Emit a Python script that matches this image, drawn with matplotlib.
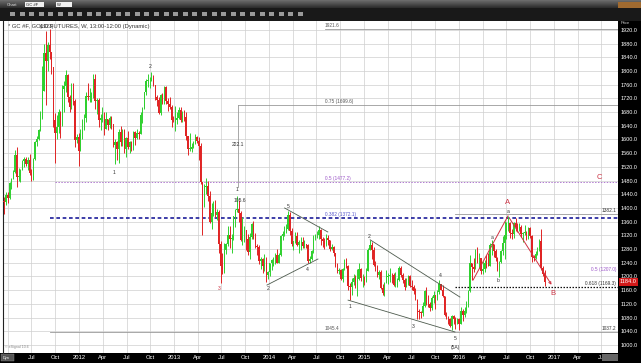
import numpy as np
import pandas as pd
import matplotlib
matplotlib.use('Agg')
import matplotlib.pyplot as plt
import matplotlib.dates as mdates
from matplotlib.patches import Rectangle
from matplotlib.ticker import FuncFormatter

plt.rcParams['font.family'] = ['Liberation Sans', 'DejaVu Sans']

# ---------------- data (weekly, week ending Friday) ----------------
first_week = '2011-03-18'
open_first = 1420.0

close_2011 = [1418, 1437, 1429, 1474, 1486, 1504, 1556, 1491, 1493, 1510, 1536, 1542, 1529, 1540, 1501,
              1483, 1542, 1592, 1602, 1628, 1664, 1743, 1852, 1828, 1876, 1856, 1813, 1658, 1620, 1636,
              1680, 1642, 1747, 1755, 1788, 1725, 1696, 1745, 1712, 1598, 1606, 1566]
high_2011 = [1431, 1447, 1446, 1477, 1489, 1510, 1569, 1577, 1517, 1514, 1540, 1550, 1550, 1550, 1557,
             1515, 1546, 1595, 1610, 1632, 1684, 1815, 1880, 1917, 1885, 1923, 1850, 1812, 1677, 1672,
             1690, 1684, 1760, 1770, 1803, 1790, 1730, 1765, 1765, 1717, 1615, 1620]
low_2011 = [1383, 1410, 1415, 1427, 1455, 1486, 1503, 1462, 1480, 1477, 1510, 1520, 1524, 1510, 1495,
            1478, 1486, 1540, 1581, 1598, 1625, 1660, 1745, 1702, 1800, 1836, 1790, 1636, 1532, 1600,
            1620, 1604, 1640, 1680, 1740, 1710, 1680, 1690, 1700, 1577, 1589, 1523]

close_2012 = [1617, 1631, 1664, 1727, 1725, 1725, 1726, 1776, 1712, 1714, 1657, 1662, 1668, 1630, 1659,
              1642, 1663, 1645, 1584, 1592, 1573, 1622, 1593, 1627, 1572, 1604, 1579, 1593, 1582, 1621,
              1605, 1620, 1616, 1672, 1691, 1738, 1770, 1773, 1775, 1780, 1759, 1725, 1714, 1678, 1730,
              1714, 1752, 1711, 1704, 1696, 1658, 1656]
high_2012 = [1630, 1660, 1675, 1740, 1764, 1750, 1740, 1790, 1792, 1721, 1720, 1673, 1695, 1680, 1680,
             1660, 1670, 1670, 1645, 1600, 1595, 1630, 1640, 1630, 1630, 1606, 1625, 1596, 1597, 1625,
             1625, 1630, 1626, 1679, 1696, 1740, 1777, 1790, 1783, 1797, 1787, 1760, 1730, 1725, 1733,
             1737, 1755, 1755, 1720, 1725, 1700, 1670]
low_2012 = [1565, 1600, 1627, 1650, 1715, 1710, 1710, 1720, 1688, 1673, 1636, 1627, 1650, 1612, 1635,
            1627, 1635, 1631, 1578, 1527, 1540, 1532, 1580, 1580, 1560, 1550, 1573, 1560, 1565, 1570,
            1585, 1600, 1600, 1616, 1649, 1690, 1730, 1753, 1750, 1770, 1755, 1715, 1697, 1675, 1672,
            1705, 1704, 1705, 1683, 1690, 1636, 1650]

close_2013 = [1656, 1662, 1687, 1657, 1668, 1667, 1609, 1572, 1572, 1577, 1592, 1608, 1596, 1581, 1476,
              1406, 1462, 1464, 1434, 1359, 1385, 1389, 1381, 1387, 1296, 1232, 1222, 1277, 1296, 1322,
              1310, 1312, 1376, 1395, 1396, 1386, 1308, 1333, 1337, 1310, 1272, 1316, 1352, 1313, 1288,
              1287, 1244, 1250, 1231, 1235, 1203, 1213]
high_2013 = [1697, 1680, 1695, 1696, 1682, 1685, 1680, 1610, 1620, 1590, 1597, 1617, 1610, 1607, 1589,
             1440, 1470, 1487, 1478, 1450, 1416, 1420, 1423, 1397, 1395, 1305, 1268, 1297, 1299, 1348,
             1346, 1325, 1378, 1397, 1434, 1423, 1390, 1375, 1346, 1330, 1325, 1326, 1355, 1361, 1327,
             1296, 1293, 1257, 1254, 1267, 1257, 1217]
low_2013 = [1626, 1645, 1660, 1652, 1650, 1655, 1598, 1554, 1565, 1563, 1575, 1588, 1590, 1539, 1470,
            1321, 1402, 1441, 1420, 1355, 1338, 1376, 1375, 1365, 1269, 1180, 1207, 1210, 1265, 1290,
            1282, 1270, 1306, 1345, 1388, 1360, 1305, 1292, 1300, 1278, 1262, 1251, 1310, 1310, 1284,
            1263, 1236, 1223, 1210, 1215, 1185, 1193]

close_2014 = [1238, 1247, 1254, 1264, 1239, 1262, 1318, 1323, 1326, 1339, 1379, 1334, 1294, 1303, 1318,
              1293, 1300, 1302, 1288, 1293, 1292, 1246, 1252, 1274, 1316, 1320, 1320, 1337, 1310, 1303,
              1294, 1311, 1306, 1280, 1287, 1268, 1231, 1216, 1218, 1192, 1222, 1238, 1231, 1171, 1169,
              1185, 1197, 1176, 1192, 1222, 1195, 1195]
high_2014 = [1240, 1251, 1256, 1270, 1280, 1270, 1320, 1332, 1346, 1354, 1392, 1388, 1341, 1305, 1331,
             1329, 1306, 1316, 1315, 1306, 1296, 1295, 1259, 1278, 1322, 1325, 1332, 1346, 1340, 1315,
             1312, 1324, 1320, 1304, 1296, 1289, 1270, 1240, 1226, 1221, 1226, 1250, 1255, 1235, 1180,
             1196, 1207, 1204, 1222, 1238, 1225, 1206]
low_2014 = [1202, 1219, 1232, 1236, 1238, 1240, 1261, 1306, 1319, 1330, 1335, 1322, 1290, 1277, 1299,
            1290, 1268, 1278, 1284, 1283, 1283, 1240, 1240, 1248, 1270, 1308, 1311, 1310, 1291, 1286,
            1281, 1290, 1292, 1273, 1276, 1259, 1228, 1211, 1208, 1190, 1183, 1218, 1226, 1160, 1131,
            1147, 1174, 1166, 1142, 1189, 1187, 1170]

close_2015 = [1186, 1216, 1277, 1293, 1278, 1234, 1227, 1204, 1213, 1167, 1152, 1182, 1199, 1201, 1204,
              1203, 1175, 1175, 1189, 1225, 1204, 1190, 1170, 1180, 1201, 1173, 1168, 1157, 1131, 1099,
              1095, 1094, 1113, 1159, 1134, 1121, 1108, 1137, 1145, 1137, 1156, 1177, 1162, 1142, 1088,
              1081, 1076, 1056, 1084, 1075, 1065, 1076, 1061]
high_2015 = [1200, 1224, 1283, 1307, 1300, 1285, 1245, 1233, 1220, 1218, 1178, 1184, 1220, 1210, 1224,
             1209, 1210, 1214, 1196, 1232, 1230, 1210, 1197, 1195, 1205, 1205, 1190, 1175, 1166, 1135,
             1104, 1100, 1126, 1162, 1170, 1147, 1126, 1142, 1157, 1144, 1160, 1191, 1178, 1175, 1143,
             1097, 1086, 1078, 1088, 1087, 1081, 1080, 1080]
low_2015 = [1175, 1183, 1215, 1276, 1250, 1232, 1216, 1198, 1192, 1163, 1147, 1142, 1180, 1178, 1185,
            1182, 1172, 1169, 1170, 1186, 1199, 1182, 1162, 1170, 1175, 1170, 1161, 1150, 1130, 1077,
            1077, 1080, 1086, 1110, 1117, 1111, 1098, 1102, 1123, 1106, 1132, 1150, 1160, 1141, 1085,
            1075, 1062, 1052, 1045, 1060, 1047, 1062, 1045]

close_2016 = [1098, 1089, 1098, 1117, 1158, 1239, 1227, 1222, 1270, 1250, 1254, 1217, 1222, 1240, 1235,
              1231, 1292, 1294, 1273, 1253, 1220, 1243, 1275, 1298, 1322, 1339, 1357, 1328, 1323, 1357,
              1344, 1339, 1345, 1323, 1327, 1328, 1310, 1343, 1317, 1257, 1254, 1267, 1276, 1304, 1224,
              1208, 1184]
high_2016 = [1110, 1105, 1110, 1128, 1161, 1263, 1240, 1253, 1280, 1287, 1270, 1250, 1244, 1247, 1262,
             1270, 1297, 1306, 1290, 1280, 1258, 1246, 1277, 1319, 1362, 1360, 1377, 1360, 1338, 1360,
             1371, 1356, 1357, 1350, 1331, 1350, 1333, 1344, 1344, 1320, 1263, 1274, 1285, 1309, 1338,
             1232, 1218]
low_2016 = [1061, 1071, 1081, 1093, 1111, 1154, 1190, 1212, 1225, 1240, 1226, 1208, 1206, 1212, 1225,
            1230, 1239, 1263, 1258, 1245, 1215, 1199, 1240, 1264, 1250, 1310, 1334, 1313, 1310, 1312,
            1333, 1331, 1333, 1314, 1302, 1322, 1306, 1311, 1311, 1241, 1246, 1250, 1262, 1275, 1220,
            1200, 1172]

price_ticks = list(range(1000, 1921, 40))
first_labelled_tick = '2011-07-01'
last_price_label = '1184.0'

# wave labels: (text, date, price, colour key)
wave_labels = [
    ('(1923)', '2011-08-30', 1929, 'dark'),
    ('1', '2012-05-14', 1505, 'dark'),
    ('2', '2012-09-30', 1812, 'dark'),
    ('3', '2013-06-22', 1166, 'red'),
    ('1', '2013-08-30', 1455, 'dark'),
    ('2', '2013-12-28', 1164, 'dark'),
    ('5', '2014-03-14', 1403, 'dark'),
    ('4', '2014-05-26', 1219, 'dark'),
    ('1', '2014-11-07', 1111, 'dark'),
    ('2', '2015-01-20', 1318, 'dark'),
    ('3', '2015-07-08', 1055, 'dark'),
    ('4', '2015-10-19', 1203, 'dark'),
    ('5', '2015-12-16', 1020, 'dark'),
    ('(5A)', '2015-12-16', 994, 'dark'),
    ('a', '2016-05-06', 1315, 'dark'),
    ('b', '2016-05-29', 1187, 'dark'),
    ('a', '2016-07-06', 1389, 'dark'),
    ('222.1', '2013-09-01', 1584, 'dark'),
    ('105.6', '2013-09-08', 1423, 'dark'),
]
big_labels = [('A', '2016-07-06', 1417), ('B', '2016-12-27', 1149), ('C', '2017-06-22', 1488)]

# trend lines (date, price) pairs
trend_lines = [
    (('2013-12-23', 1175), ('2014-07-07', 1251)),
    (('2014-03-01', 1400), ('2014-08-14', 1330)),
    (('2015-01-24', 1307), ('2016-01-04', 1140)),
    (('2014-10-31', 1131), ('2015-12-16', 1038)),
]
red_path = [('2016-02-24', 1190), ('2016-07-07', 1377), ('2016-12-27', 1169)]

# horizontal levels: (price, start date, left label, style key)
levels = [
    (1921.6, '2014-08-03', '1921.6', 'grey'),
    (1699.6, '2013-09-03', '0.75 (1699.6)', 'grey'),
    (1477.2, '2011-10-01', '0.5 (1477.2)', 'purple'),
    (1372.1, '2011-09-12', '0.382 (1372.1)', 'blue'),
    (1382.1, '2015-12-16', '', 'grey'),
    (1037.2, '2011-09-12', '1045.4', 'grey'),
    (1169.3, '2015-12-16', '', 'black'),
]
level_label_date = '2014-08-03'
# labels drawn at the right edge of the plot: (text, price, colour key)
right_labels = [('1382.1', 1386, 'dark'), ('1037.2', 1041, 'dark'),
                ('0.5 (1207.0)', 1213, 'purple'), ('0.618 (1169.3)', 1173, 'black')]

# ---------------- figure ----------------
W, H = 641, 363
fig = plt.figure(figsize=(W / 100, H / 100), dpi=100)
fig.patch.set_facecolor('white')


def fx(px):
    return px / W


def fy(py):
    return 1 - py / H


# toolbar
tb = fig.add_axes([0, fy(21), 1, 21 / H])
grad = np.concatenate([np.linspace(0.42, 0.18, 8), np.full(13, 0.10)])[:, None]
tb.imshow(np.repeat(grad, 10, axis=1), cmap='gray', vmin=0, vmax=1, aspect='auto',
          extent=[0, W, 21, 0])
tb.set_xlim(0, W)
tb.set_ylim(21, 0)
tb.axis('off')
tb.text(7, 4.5, 'Chart', color='#dddddd', fontsize=3.2, va='center')
tb.add_patch(Rectangle((25, 2), 19, 5, facecolor='#f0f0f0', edgecolor='none'))
tb.text(26, 4.5, 'GC #F', color='#222222', fontsize=3.0, va='center')
tb.add_patch(Rectangle((56, 2), 16, 5, facecolor='#f0f0f0', edgecolor='none'))
tb.text(57, 4.5, 'W', color='#222222', fontsize=3.0, va='center')
for xx in np.arange(10, 300, 9.6):
    tb.add_patch(Rectangle((xx, 12), 5, 4, facecolor='#9a9a9a', edgecolor='none'))
tb.add_patch(Rectangle((618, 2), 23, 6, facecolor='#a06a30', edgecolor='none'))

# bottom and right strips
fig.add_artist(Rectangle((0, 0), 1, 10 / H, transform=fig.transFigure, facecolor='black',
                         edgecolor='none', zorder=-1))
fig.add_artist(Rectangle((fx(618), 0), 1 - fx(618), fy(21), transform=fig.transFigure,
                         facecolor='black', edgecolor='none', zorder=-1))
fig.add_artist(Rectangle((fx(1), fy(361)), fx(13), 7 / H, transform=fig.transFigure,
                         facecolor='#555555', edgecolor='#888888', lw=0.3, zorder=5))
fig.text(fx(2.5), fy(357.5), 'Dyn', color='white', fontsize=2.8, va='center', zorder=6)
fig.add_artist(Rectangle((fx(602), fy(361)), fx(16), 7 / H, transform=fig.transFigure,
                         facecolor='#666666', edgecolor='none', zorder=5))
fig.text(fx(621), fy(23.5), 'Price', color='#cccccc', fontsize=3, va='center')

ax = fig.add_axes([fx(3), fy(353), fx(618) - fx(3), (353 - 21) / H])
ax.set_facecolor('white')

close = np.array(close_2011 + close_2012 + close_2013 + close_2014 + close_2015 + close_2016, float)
high = np.array(high_2011 + high_2012 + high_2013 + high_2014 + high_2015 + high_2016, float)
low = np.array(low_2011 + low_2012 + low_2013 + low_2014 + low_2015 + low_2016, float)
dates = pd.date_range(first_week, periods=len(close), freq='W-FRI')
x = mdates.date2num(dates.to_pydatetime())
opens = np.concatenate([[open_first], close[:-1]])
high = np.maximum(high, np.maximum(opens, close))
low = np.minimum(low, np.minimum(opens, close))
up = close >= opens
cols = np.where(up, '#2fd02f', '#e02424')

ax.vlines(x, low, high, colors=cols, lw=0.7, zorder=3)
body_lo = np.minimum(opens, close)
body_h = np.maximum(np.abs(close - opens), 2.0)
ax.bar(x, body_h, bottom=body_lo, width=4.8, color=cols, edgecolor='none', zorder=3)


def d(s):
    return mdates.date2num(pd.Timestamp(s).to_pydatetime())


ax.set_xlim(d('2011-03-14'), d('2017-09-03'))
ax.set_ylim(976.6, 1946)

# axes / grid
ax.set_yticks(price_ticks)
ax.yaxis.set_major_formatter(FuncFormatter(lambda v, p: f'{v:.1f}'))
ax.yaxis.tick_right()
ax.tick_params(axis='y', colors='white', labelsize=4.0, length=0, pad=2)
ax.xaxis.set_major_locator(mdates.MonthLocator(bymonth=[1, 4, 7, 10]))
first_tick_num = d(first_labelled_tick)


def xfmt(v, p):
    if v < first_tick_num - 1:
        return ''
    dt = mdates.num2date(v)
    return str(dt.year) if dt.month == 1 else dt.strftime('%b')


ax.xaxis.set_major_formatter(FuncFormatter(xfmt))
ax.tick_params(axis='x', colors='white', labelsize=4.2, length=0, pad=1.5)
ax.grid(True, color='#cfcfcf', lw=0.5, zorder=0)
ax.set_axisbelow(True)
for s in ['top', 'right', 'bottom']:
    ax.spines[s].set_visible(False)
ax.spines['left'].set_color('#222222')
ax.spines['left'].set_linewidth(0.8)

style = {
    'grey': dict(color='#9a9a9a', lw=0.6, ls='-'),
    'purple': dict(color='#b07ad0', lw=0.7, ls=(0, (1.5, 1.5))),
    'blue': dict(color='#1c1c9a', lw=1.2, ls=(0, (2.2, 1.6))),
    'black': dict(color='#111111', lw=0.9, ls=(0, (1.2, 1.2))),
}
tcol = {'grey': '#555555', 'purple': '#9b55c8', 'blue': '#5555cc', 'black': '#333333',
        'dark': '#333333', 'red': '#cc3344'}
xmax = d('2017-09-03')
for price, start, lab, key in levels:
    ax.plot([d(start), xmax], [price, price], zorder=2, **style[key])
    if lab:
        ax.text(d(level_label_date), price + 3, lab, color=tcol[key], fontsize=3.4,
                ha='left', va='bottom', zorder=6)
for t, p, k in right_labels:
    ax.text(0.997, p, t, transform=ax.get_yaxis_transform(), color=tcol[k], fontsize=3.4,
            ha='right', va='bottom', zorder=6)
# vertical measuring line
ax.plot([d('2013-09-03'), d('2013-09-03')], [1699.6, 1460], color='#9a9a9a', lw=0.6, zorder=2)

for (d1, p1), (d2, p2) in trend_lines:
    ax.plot([d(d1), d(d2)], [p1, p2], color='#4d5a4d', lw=0.6, zorder=4)
rx = [d(s) for s, _ in red_path]
ry = [p for _, p in red_path]
ax.plot(rx[:2], ry[:2], color='#d03040', lw=0.7, zorder=4)
ax.annotate('', xy=(rx[2], ry[2]), xytext=(rx[1], ry[1]),
            arrowprops=dict(arrowstyle='->', color='#d03040', lw=0.7, mutation_scale=4), zorder=4)

for t, dd, p, k in wave_labels:
    ax.text(d(dd), p, t, color=tcol[k], fontsize=3.6, ha='center', va='center', zorder=6)
for t, dd, p in big_labels:
    ax.text(d(dd), p, t, color='#cc3344', fontsize=5.5, ha='center', va='center', zorder=6)

ax.text(fx(5) / (fx(618) - fx(3)), 0.992, '* GC #F, GOLD FUTURES, W, 13:00-12:00 (Dynamic)',
        transform=ax.transAxes, color='#333333', fontsize=4.2, ha='left', va='top', zorder=6)
ax.text(0.004, 0.012, '\u00a9 eSignal 10.6', transform=ax.transAxes, color='#888888',
        fontsize=2.6, ha='left', va='bottom', zorder=6)

# last price marker
ax.annotate(last_price_label, xy=(1.0, close[-1]), xycoords=ax.get_yaxis_transform(),
            xytext=(1.003, close[-1]), textcoords=ax.get_yaxis_transform(),
            color='white', fontsize=4.0, ha='left', va='center', zorder=10,
            bbox=dict(boxstyle='square,pad=0.2', facecolor='#d01818', edgecolor='none'),
            annotation_clip=False)

fig.savefig('out.png', dpi=100, facecolor=fig.get_facecolor())
